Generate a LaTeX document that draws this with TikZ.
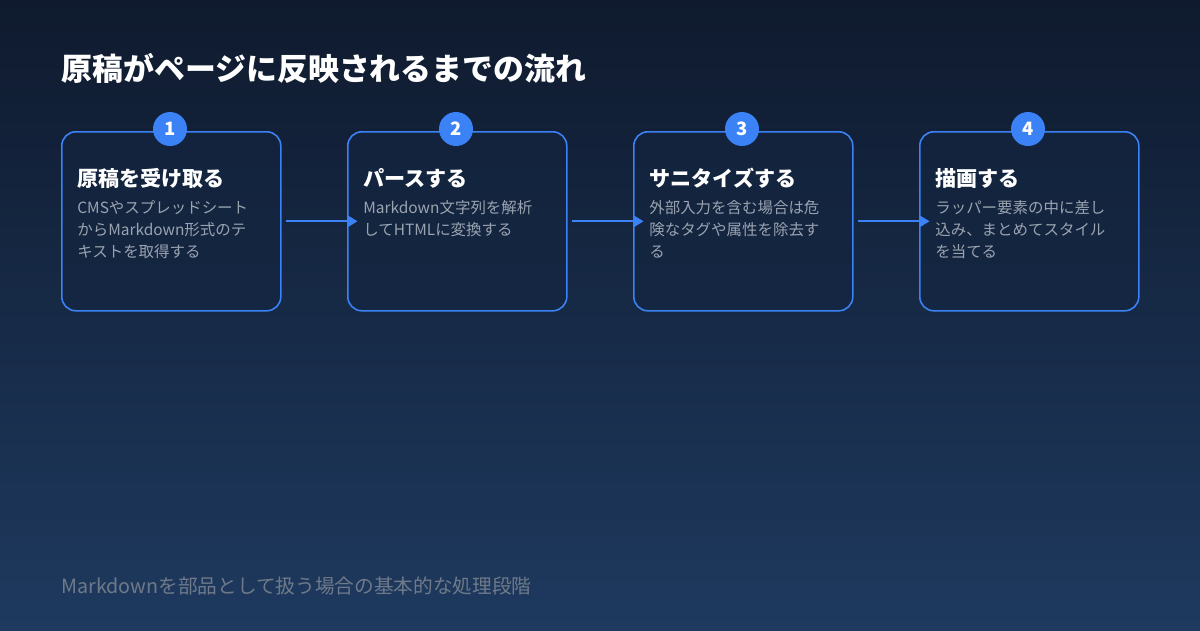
\documentclass[tikz,border=0pt]{standalone}
\usepackage{fontspec}
\setmainfont{Noto Sans CJK JP}
\usetikzlibrary{positioning,arrows.meta}
\definecolor{bgtop}{HTML}{0F1A2E}
\definecolor{bgbot}{HTML}{1E3A5F}
\definecolor{cardfill}{HTML}{142540}
\definecolor{accent}{HTML}{3B82F6}
\definecolor{bodytext}{HTML}{9AA3B0}
\definecolor{foottext}{HTML}{6E7A8A}
\tikzset{
  card/.style={draw=accent, line width=0.9pt, fill=cardfill, fill opacity=0.6,
    rounded corners=8pt, minimum width=219*0.02cm, minimum height=179*0.02cm,
    anchor=north west, inner sep=0pt},
  badge/.style={circle, fill=accent, minimum size=34*0.02cm, inner sep=0pt,
    text=white, font=\bfseries\fontsize{10.5}{12}\selectfont},
  stephead/.style={anchor=west, text=white, inner sep=0pt,
    font=\bfseries\fontsize{12}{14}\selectfont},
  desc/.style={anchor=north west, text=bodytext, inner sep=0pt, align=left,
    font=\fontsize{8.8}{12.5}\selectfont},
  flow/.style={draw=accent, line width=1.1pt, -{Triangle[length=6pt,width=7pt]}},
}
\begin{document}
\begin{tikzpicture}[x=0.02cm,y=-0.02cm]
  \shade[top color=bgtop, bottom color=bgbot] (0,0) rectangle (1200,630);
  \useasboundingbox (0,0) rectangle (1200,630);
  \node[anchor=west, text=white, inner sep=0pt,
    font=\bfseries\fontsize{17.6}{20}\selectfont] (title) at (61,68)
    {原稿がページに反映されるまでの流れ};
  % cards
  \foreach \i/\x/\head/\body in {
      1/61/原稿を受け取る/{CMSやスプレッドシート\\からMarkdown形式のテ\\キストを取得する},
      2/347/パースする/{Markdown文字列を解析\\してHTMLに変換する},
      3/633/サニタイズする/{外部入力を含む場合は危\\険なタグや属性を除去す\\る},
      4/919/描画する/{ラッパー要素の中に差し\\込み、まとめてスタイル\\を当てる}} {
    \node[card] (card\i) at (\x,131) {};
    \node[badge] (num\i) at (\x+109,129) {\i};
    \node[stephead] (head\i) at (\x+16,178) {\head};
    \node[desc] (body\i) at (\x+16,200) {\body};
  }
  \foreach \a/\b in {1/2,2/3,3/4}
    \draw[flow] (card\a.east) ++(4,0) -- ([xshift=6pt]card\b.west);
  \node[anchor=west, text=foottext, inner sep=0pt,
    font=\fontsize{11.2}{13}\selectfont] (foot) at (61,586)
    {Markdownを部品として扱う場合の基本的な処理段階};
\end{tikzpicture}
\end{document}
